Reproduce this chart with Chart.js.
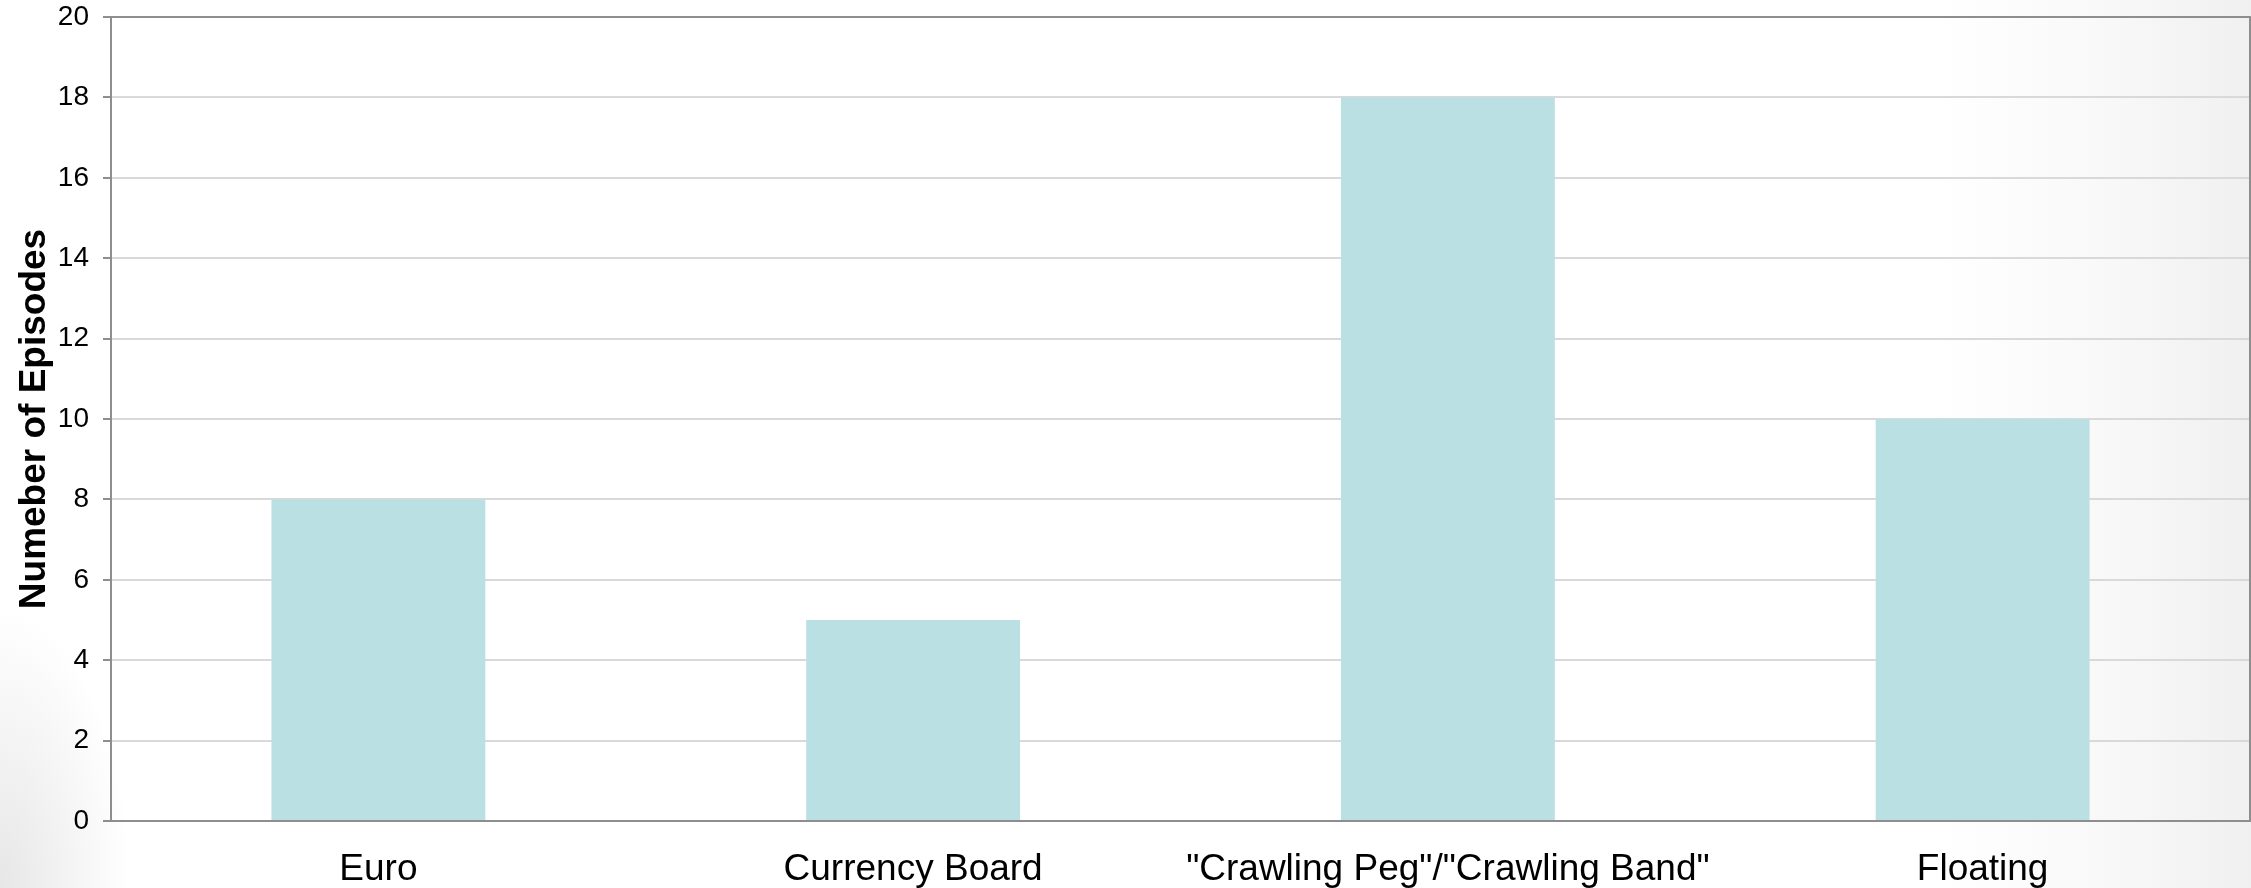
<!DOCTYPE html>
<html>
<head>
<meta charset="utf-8">
<script src="https://cdn.jsdelivr.net/npm/chart.js@4/dist/chart.umd.min.js"></script>
<style>
  html, body { margin: 0; padding: 0; }
  body {
    width: 2251px; height: 888px; overflow: hidden;
    background:
      radial-gradient(ellipse 130px 280px at 0% 100%, rgba(228,228,228,0.9) 0%, rgba(255,255,255,0) 100%),
      linear-gradient(to right, #ffffff 0%, #ffffff 86%, #f8f8f8 94%, #f0f0f0 100%);
  }
  #wrap { position: absolute; left: 0; top: 0; width: 2251px; height: 888px; }
</style>
</head>
<body>
<div id="wrap"><canvas id="c" width="2251" height="888"></canvas></div>
<script>
const categories = ['Euro', 'Currency Board', '"Crawling Peg"/"Crawling Band"', 'Floating'];
const episodes = [8, 5, 18, 10];
const yTicks = [0, 2, 4, 6, 8, 10, 12, 14, 16, 18, 20];
const yTitle = 'Numeber of Episodes';

const frame = {
  id: 'frame',
  afterDatasetsDraw(chart) {
    const a = chart.chartArea, ctx = chart.ctx;
    ctx.save();
    ctx.strokeStyle = '#8e8e8e';
    ctx.lineWidth = 2;
    ctx.beginPath();
    ctx.moveTo(a.left, a.top);
    ctx.lineTo(a.right, a.top);
    ctx.lineTo(a.right, a.bottom);
    ctx.stroke();
    ctx.restore();
  }
};

new Chart(document.getElementById('c'), {
  type: 'bar',
  data: {
    labels: categories,
    datasets: [{
      data: episodes,
      backgroundColor: '#bbe0e3',
      borderWidth: 0,
      barPercentage: 0.4,
      categoryPercentage: 1.0
    }]
  },
  options: {
    responsive: false,
    animation: false,
    layout: { padding: { top: 17, right: 1, left: 0, bottom: 0 } },
    plugins: { legend: { display: false }, tooltip: { enabled: false } },
    scales: {
      x: {
        afterFit(s) { s.height = 67; s.paddingLeft = 0; s.paddingRight = 0; },
        grid: { display: false, drawTicks: false },
        border: { display: true, color: '#8e8e8e', width: 2 },
        ticks: {
          padding: 27,
          color: '#000',
          font: { family: '"Liberation Sans", Arial, sans-serif', size: 37 },
          maxRotation: 0, autoSkip: false
        }
      },
      y: {
        min: 0, max: 20,
        afterFit(s) { s.width = 111; s.paddingTop = 0; s.paddingBottom = 0; },
        afterBuildTicks(s) { s.ticks = yTicks.map(v => ({ value: v })); },
        grid: { color: '#d9d9d9', lineWidth: 2, tickLength: 8, tickColor: '#8e8e8e', drawTicks: true },
        border: { display: true, color: '#8e8e8e', width: 2 },
        ticks: {
          padding: 14,
          color: '#000',
          font: { family: '"Liberation Sans", Arial, sans-serif', size: 28 }
        },
        title: {
          display: true,
          text: yTitle,
          color: '#000',
          padding: { top: 13, bottom: 0 },
          font: { family: '"Liberation Sans", Arial, sans-serif', size: 37, weight: 'bold' }
        }
      }
    }
  },
  plugins: [frame]
});
</script>
</body>
</html>
